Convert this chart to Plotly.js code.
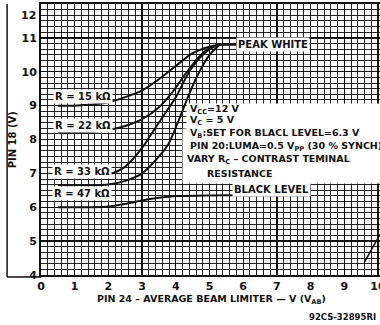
<!DOCTYPE html>
<html>
<head>
<meta charset="utf-8">
<script src="https://cdn.plot.ly/plotly-3.0.1.min.js"></script>
<style>html,body{margin:0;padding:0;background:#fff;}#chart{width:380px;height:325px;}</style>
</head>
<body>
<div id="chart"></div>
<script>
// Curve data (x = Pin 24 voltage V, y = Pin 18 voltage V)
const r15X = [0.5, 1.0, 1.5, 2.0, 2.5, 3.0, 3.5, 4.0, 4.5, 5.0, 5.3];
const r15Y = [9.0, 9.0, 9.03, 9.1, 9.25, 9.45, 9.78, 10.17, 10.55, 10.74, 10.8];
const r22X = [0.5, 1.0, 1.5, 2.0, 2.5, 3.0, 3.5, 3.9, 4.3, 4.7, 5.0, 5.3];
const r22Y = [8.2, 8.2, 8.22, 8.28, 8.4, 8.6, 8.95, 9.4, 9.95, 10.45, 10.7, 10.8];
const r33X = [0.5, 1.0, 1.5, 2.0, 2.5, 3.0, 3.3, 3.6, 4.0, 4.4, 4.8, 5.1, 5.3];
const r33Y = [6.9, 6.9, 6.92, 6.97, 7.2, 7.75, 8.2, 8.65, 9.25, 10.0, 10.5, 10.72, 10.8];
const r47X = [0.5, 1.0, 1.5, 2.0, 2.5, 3.0, 3.5, 3.8, 4.1, 4.4, 4.7, 5.0, 5.3];
const r47Y = [6.65, 6.65, 6.65, 6.67, 6.78, 7.0, 7.5, 7.9, 8.6, 9.35, 10.0, 10.5, 10.8];
const blackX = [0.5, 1.0, 1.5, 2.0, 2.5, 3.0, 3.5, 4.0, 5.0, 6.0, 7.0, 8.0];
const blackY = [6.0, 6.0, 6.0, 6.02, 6.1, 6.2, 6.28, 6.33, 6.35, 6.35, 6.35, 6.35];
const peakX = [5.3, 7.95];
const peakY = [10.8, 10.8];
const edgeX = [9.6, 10.06];
const edgeY = [4.38, 5.2];
const xTicks = [0, 1, 2, 3, 4, 5, 6, 7, 8, 9, 10];
const yTicks = [4, 5, 6, 7, 8, 9, 10, 11];
const yTopTick = 12;
const curveLabels = ['R = 15 kΩ', 'R = 22 kΩ', 'R = 33 kΩ', 'R = 47 kΩ'];
const noteLines = [
  'V<sub>CC</sub>=12 V',
  'V<sub>C</sub> = 5 V',
  'V<sub>B</sub>:SET FOR BLACL LEVEL=6.3 V',
  'PIN 20:LUMA=0.5 V<sub>PP</sub> (30 % SYNCH)',
  'VARY R<sub>C</sub> – CONTRAST TEMINAL',
  'RESISTANCE'
];

const FONT = 'DejaVu Sans, Verdana, sans-serif';
const lineStyle = {color: '#111', width: 2, shape: 'spline', smoothing: 0.8};
function tr(x, y, ls) {
  return {x: x, y: y, type: 'scatter', mode: 'lines', line: ls || lineStyle, hoverinfo: 'skip', showlegend: false};
}
const data = [
  tr(r15X, r15Y), tr(r22X, r22Y), tr(r33X, r33Y), tr(r47X, r47Y),
  tr(blackX, blackY), tr(peakX, peakY, {color: '#111', width: 2}),
  tr(edgeX, edgeY, {color: '#111', width: 1.5})
];

const lblFont = {family: FONT, size: 10, color: '#111', weight: 'bold'};
const noteFont = {family: FONT, size: 9.5, color: '#111', weight: 'bold'};
const annotations = [];
// white panels behind the notes (drawn first so text lies on top)
annotations.push({x: 4.3, y: 9.08, xanchor: 'left', yanchor: 'top', text: ' ', showarrow: false,
  width: 200, height: 26, bgcolor: '#fff', borderpad: 0});
annotations.push({x: 4.18, y: 8.34, xanchor: 'left', yanchor: 'top', text: ' ', showarrow: false,
  width: 205, height: 54, bgcolor: '#fff', borderpad: 0});
const labelPos = [[1.25, 9.26], [1.25, 8.4], [1.22, 7.07], [1.22, 6.4]];
curveLabels.forEach((t, i) => annotations.push({
  x: labelPos[i][0], y: labelPos[i][1], text: t, showarrow: false,
  font: lblFont, bgcolor: '#fff', borderpad: 1
}));
annotations.push({x: 6.88, y: 10.8, text: 'PEAK WHITE', showarrow: false, font: lblFont, bgcolor: '#fff', borderpad: 1});
annotations.push({x: 6.83, y: 6.52, text: 'BLACK LEVEL', showarrow: false, font: lblFont, bgcolor: '#fff', borderpad: 1});
const noteY = [8.9, 8.55, 8.17, 7.78, 7.4, 7.01];
const noteX = [4.36, 4.36, 4.36, 4.36, 4.27, 4.87];
noteLines.forEach((t, i) => annotations.push({
  x: noteX[i], y: noteY[i], xanchor: 'left', yanchor: 'middle', text: t,
  showarrow: false, font: noteFont
}));
annotations.push({x: 0, y: yTopTick, xanchor: 'right', yanchor: 'top', xshift: -3, yshift: -3,
  text: String(yTopTick), showarrow: false, font: {family: FONT, size: 11, color: '#111', weight: 'bold'}});
annotations.push({xref: 'paper', yref: 'paper', x: 0.504, y: -0.089, xanchor: 'center', yanchor: 'middle',
  text: 'PIN 24 – AVERAGE BEAM LIMITER — V (V<sub>AB</sub>)', showarrow: false,
  font: {family: FONT, size: 9.5, color: '#111', weight: 'bold'}});
annotations.push({xref: 'paper', yref: 'paper', x: 0.995, y: -0.155, xanchor: 'right', yanchor: 'middle',
  text: '92CS-32895RI', showarrow: false, font: {family: FONT, size: 8.5, color: '#111', weight: 'bold'}});
annotations.push({xref: 'paper', yref: 'paper', x: -0.083, y: 0.5, xanchor: 'center', yanchor: 'middle',
  textangle: -90, text: 'PIN 18 (V)', showarrow: false, font: lblFont});

const shapes = [
  {type: 'line', xref: 'paper', yref: 'paper', x0: -0.1, x1: -0.1, y0: -0.007, y1: 1,
   line: {color: '#111', width: 1.5}},
  {type: 'line', xref: 'paper', yref: 'paper', x0: -0.1, x1: 0, y0: -0.007, y1: -0.007,
   line: {color: '#111', width: 1.5}}
];

const tickFont = {family: FONT, size: 11, color: '#111', weight: 'bold'};
const layout = {
  width: 380, height: 325,
  margin: {l: 41, r: 0, t: 4, b: 50, pad: 0},
  paper_bgcolor: '#fff', plot_bgcolor: '#fff',
  showlegend: false,
  xaxis: {
    range: [0, 10.06], tickmode: 'array', tickvals: xTicks, ticktext: xTicks.map(String),
    showgrid: true, gridcolor: '#111', gridwidth: 1.3,
    minor: {tickmode: 'linear', dtick: 0.2, tick0: 0, showgrid: true, gridcolor: '#222', gridwidth: 1},
    showline: true, linecolor: '#111', linewidth: 2, mirror: true,
    zeroline: false, ticks: '', tickfont: tickFont, fixedrange: true,
    ticklabeloverflow: 'allow'
  },
  yaxis: {
    range: [4, 12], tickmode: 'array', tickvals: yTicks, ticktext: yTicks.map(String),
    showgrid: true, gridcolor: '#111', gridwidth: 1.3,
    minor: {tickmode: 'linear', dtick: 1 / 6, tick0: 4, showgrid: true, gridcolor: '#222', gridwidth: 1},
    showline: true, linecolor: '#111', linewidth: 2, mirror: true,
    zeroline: false, ticks: '', tickfont: tickFont, fixedrange: true,
    ticklabeloverflow: 'allow'
  },
  annotations: annotations,
  shapes: shapes
};
Plotly.newPlot('chart', data, layout, {staticPlot: true, displayModeBar: false});
</script>
</body>
</html>
